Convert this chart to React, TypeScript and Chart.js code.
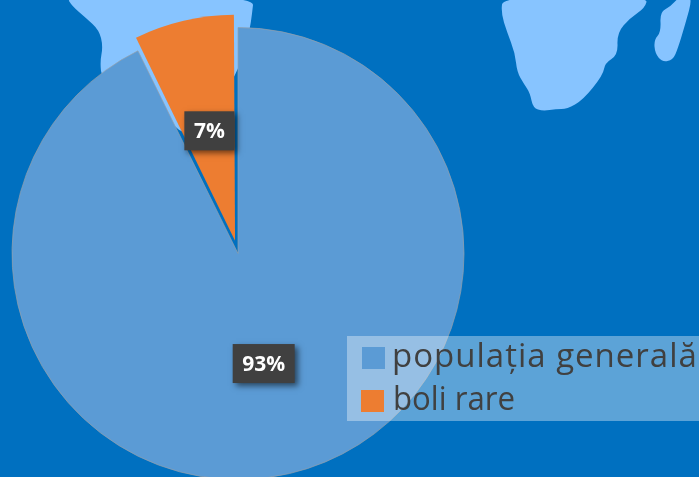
import React, { useEffect, useRef } from "react";
import { Chart, registerables } from "chart.js";

Chart.register(...registerables);

const categories = ["populația generală", "boli rare"];
const seriesValues = [92.7, 7.3];
const sliceColors = ["#5B9BD5", "#ED7D31"];
const valueLabels = ["93%", "7%"];

// Decorative map behind the chart (not data).
const landTop: [number, number][] = [[66, -4], [72, 6], [86, 18], [99, 30], [103, 46], [100, 62], [102, 80], [150, 90], [190, 150], [240, 70], [250, 28], [252, 14], [254, -4]];
const landAfrica: [number, number][] = [[503, -4], [501, 13], [507, 32], [515, 53], [517, 72], [524, 84], [530, 93], [533, 108], [543, 111], [556, 109], [567, 109], [583, 100], [603, 75], [605, 63], [618, 55], [617, 33], [630, 18], [645, 8], [648, -4]];
const landMadagascar: [number, number][] = [[693, -4], [685, 25], [678, 48], [673, 60], [662, 62], [655, 53], [654, 40], [661, 32], [660, 12], [670, 7], [680, -4]];

function smoothPath(ctx: CanvasRenderingContext2D, pts: [number, number][]) {
  ctx.beginPath();
  const n = pts.length;
  const mid = (a: [number, number], b: [number, number]) => [(a[0] + b[0]) / 2, (a[1] + b[1]) / 2];
  const start = mid(pts[n - 1], pts[0]);
  ctx.moveTo(start[0], start[1]);
  for (let i = 0; i < n; i++) {
    const m = mid(pts[i], pts[(i + 1) % n]);
    ctx.quadraticCurveTo(pts[i][0], pts[i][1], m[0], m[1]);
  }
  ctx.closePath();
}

const backdrop = {
  id: "backdrop",
  beforeDraw(chart: Chart) {
    const ctx = chart.ctx;
    ctx.save();
    ctx.fillStyle = "#0070C0";
    ctx.fillRect(0, 0, chart.width, chart.height);
    ctx.fillStyle = "#87C4FF";
    for (const shape of [landTop, landAfrica, landMadagascar]) {
      smoothPath(ctx, shape);
      ctx.fill();
    }
    ctx.restore();
  },
};

// Chart.js grows an exploded arc's radius; bring every slice back to the pie's radius.
const evenRadius = {
  id: "evenRadius",
  afterDatasetsUpdate(chart: Chart) {
    const ds: any = chart.data.datasets[0];
    chart.getDatasetMeta(0).data.forEach((arc: any, i: number) => {
      const off = (ds.offset[i] || 0) / 4;
      const fix = 1 - Math.sin(Math.min(Math.PI, arc.circumference));
      arc.outerRadius -= off * fix;
    });
  },
};

const valueTags = {
  id: "valueTags",
  afterDraw(chart: Chart) {
    const ctx = chart.ctx;
    const meta = chart.getDatasetMeta(0);
    const ds: any = chart.data.datasets[0];
    const r = (meta.controller as any).outerRadius;
    ctx.save();
    ctx.font = "bold 21px 'Open Sans'";
    ctx.textAlign = "center";
    ctx.textBaseline = "middle";
    meta.data.forEach((arc: any, i: number) => {
      const off = (ds.offset[i] || 0) / 4;
      const half = (arc.startAngle + arc.endAngle) / 2;
      const x = arc.x + Math.cos(half) * (r / 2 + off);
      const y = arc.y + Math.sin(half) * (r / 2 + off);
      const w = i === 0 ? 62 : 50;
      const h = 39;
      ctx.shadowColor = "rgba(0,0,0,0.55)";
      ctx.shadowBlur = 6;
      ctx.shadowOffsetX = 3;
      ctx.shadowOffsetY = 3;
      ctx.fillStyle = "#404040";
      ctx.fillRect(x - w / 2, y - h / 2, w, h);
      ctx.shadowColor = "transparent";
      ctx.fillStyle = "#FFFFFF";
      ctx.fillText(valueLabels[i], x, y + 1);
    });
    ctx.restore();
  },
};

const legendBox = {
  id: "legendBox",
  afterDraw(chart: Chart) {
    const ctx = chart.ctx as any;
    ctx.save();
    ctx.fillStyle = "rgba(255,255,255,0.36)";
    ctx.fillRect(347, 336, 352, 85);
    ctx.font = "33px 'Open Sans'";
    ctx.textBaseline = "alphabetic";
    (chart.data.labels as string[]).forEach((label, i) => {
      ctx.fillStyle = sliceColors[i];
      ctx.fillRect(i === 0 ? 362 : 361, i === 0 ? 347 : 390, 23, 22);
      ctx.fillStyle = "#404040";
      if (i === 0) {
        ctx.letterSpacing = "1px";
        ctx.fillText(label, 392, 367);
        ctx.letterSpacing = "0px";
      } else {
        ctx.fillText(label, 393, 410, 122);
      }
    });
    ctx.restore();
  },
};

export default function App() {
  const ref = useRef<HTMLCanvasElement>(null);
  useEffect(() => {
    document.body.style.margin = "0";
    document.body.style.background = "#0070C0";
    const chart = new Chart(ref.current!, {
      type: "pie",
      data: {
        labels: categories,
        datasets: [
          {
            data: seriesValues,
            backgroundColor: sliceColors,
            borderColor: ["rgba(150,160,170,0.7)", "rgba(237,125,49,0)"],
            borderWidth: 1,
            offset: [0, 52],
            clip: false,
          } as any,
        ],
      },
      options: {
        responsive: false,
        animation: false,
        radius: 226,
        layout: { padding: { top: 30, right: 223, bottom: 0, left: 0 } },
        plugins: { legend: { display: false }, tooltip: { enabled: false } },
      } as any,
      plugins: [backdrop, evenRadius, valueTags, legendBox],
    });
    return () => chart.destroy();
  }, []);
  return (
    <canvas
      ref={ref}
      width={699}
      height={477}
      style={{ display: "block", width: 699, height: 477, filter: "blur(0.6px)" }}
    />
  );
}
